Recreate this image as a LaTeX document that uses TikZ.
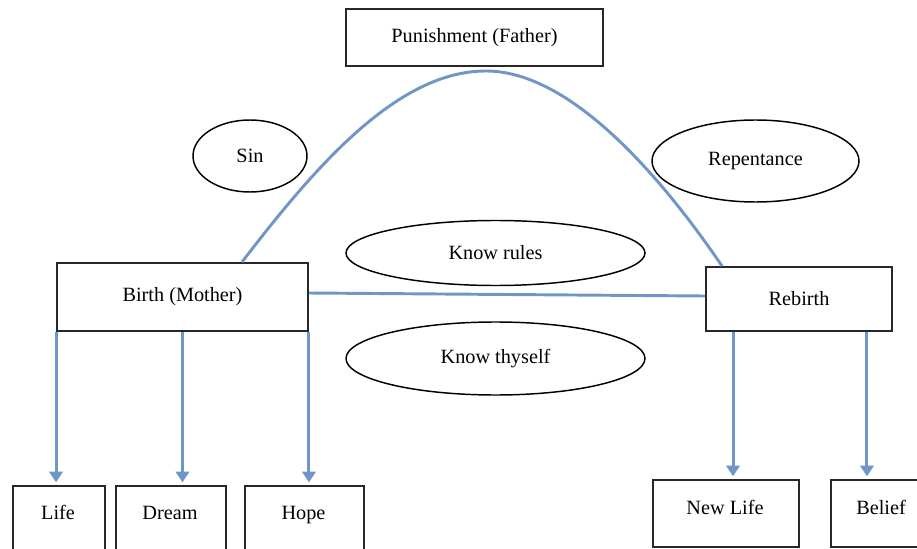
\documentclass[tikz,border=0pt]{standalone}
\usepackage{fontspec}
\setmainfont{Liberation Serif}
\usetikzlibrary{shapes.geometric,arrows.meta,calc}
\definecolor{lineblue}{RGB}{111,150,196}
\definecolor{boxline}{RGB}{40,40,40}
\begin{document}
\begin{tikzpicture}[x=0.75pt,y=-0.75pt,
  every node/.style={font=\fontsize{15.2}{18}\selectfont},
  boxnode/.style={draw=boxline, line width=1.4pt, rectangle, inner sep=0pt},
  ovalnode/.style={draw=black, line width=1.1pt, ellipse, inner sep=0pt},
  link/.style={draw=lineblue, line width=2.2pt},
  arrowlink/.style={link, -{Triangle[width=10pt,length=8pt]}, shorten >=2pt},
  txt/.style={inner sep=0pt, anchor=base}
]
\useasboundingbox (0,0) rectangle (917,549);

% main boxes
\node[boxnode, minimum width=192.75pt, minimum height=42.75pt] (pun) at (474.5,37.5) {Punishment (Father)};
\node[boxnode, minimum width=188.25pt, minimum height=51pt] (birth) at (182.5,297) {Birth (Mother)};
\node[boxnode, minimum width=139.5pt, minimum height=48pt] (rebirth) at (799,299) {Rebirth};

% ellipses
\node[ovalnode, minimum width=85.5pt, minimum height=54pt] (sin) at (250,156) {Sin};
\node[ovalnode, minimum width=155.25pt, minimum height=61.5pt] (rep) at (755.5,161) {Repentance};
\node[ovalnode, minimum width=224.25pt, minimum height=48.75pt] (rules) at (495.5,253) {Know rules};
\node[ovalnode, minimum width=224.25pt, minimum height=54.75pt] (thyself) at (495.5,358.5) {Know thyself};

% bottom boxes
\node[boxnode, anchor=north west, minimum width=69pt, minimum height=75pt] (life) at (12,485) {};
\node[txt] (lifetxt) at (58,519) {Life};
\node[boxnode, anchor=north west, minimum width=82.5pt, minimum height=75pt] (dream) at (115,485) {};
\node[txt] (dreamtxt) at (170,519) {Dream};
\node[boxnode, anchor=north west, minimum width=89.25pt, minimum height=75pt] (hope) at (244,485) {};
\node[txt] (hopetxt) at (303.5,519) {Hope};
\node[boxnode, anchor=north west, minimum width=109.5pt, minimum height=50.25pt] (newlife) at (652,479) {};
\node[txt] (newlifetxt) at (725,514) {New Life};
\node[boxnode, anchor=north west, minimum width=76.5pt, minimum height=50.25pt] (belief) at (830,479) {};
\node[txt] (belieftxt) at (881,514) {Belief};

% arch
\draw[link] ($(birth.north)+(59.5,0)$) .. controls (320,160) and (400,71) .. (486,71)
   .. controls (570,71) and (660,175) .. ($(rebirth.north west)+(17,0)$);

% horizontal connection
\draw[link] ($(birth.east)+(0,-4)$) -- ($(rebirth.west)+(0,-3)$);

% arrows
\draw[arrowlink] (birth.south west) -- (birth.south west |- life.north);
\draw[arrowlink] (birth.south) -- (birth.south |- dream.north);
\draw[arrowlink] (birth.south east) -- (birth.south east |- hope.north);
\coordinate (r1) at ($(rebirth.south west)+(28,0)$);
\coordinate (r2) at ($(rebirth.south east)+(-26,0)$);
\draw[arrowlink] (r1) -- (r1 |- newlife.north);
\draw[arrowlink] (r2) -- (r2 |- belief.north);
\end{tikzpicture}
\end{document}
